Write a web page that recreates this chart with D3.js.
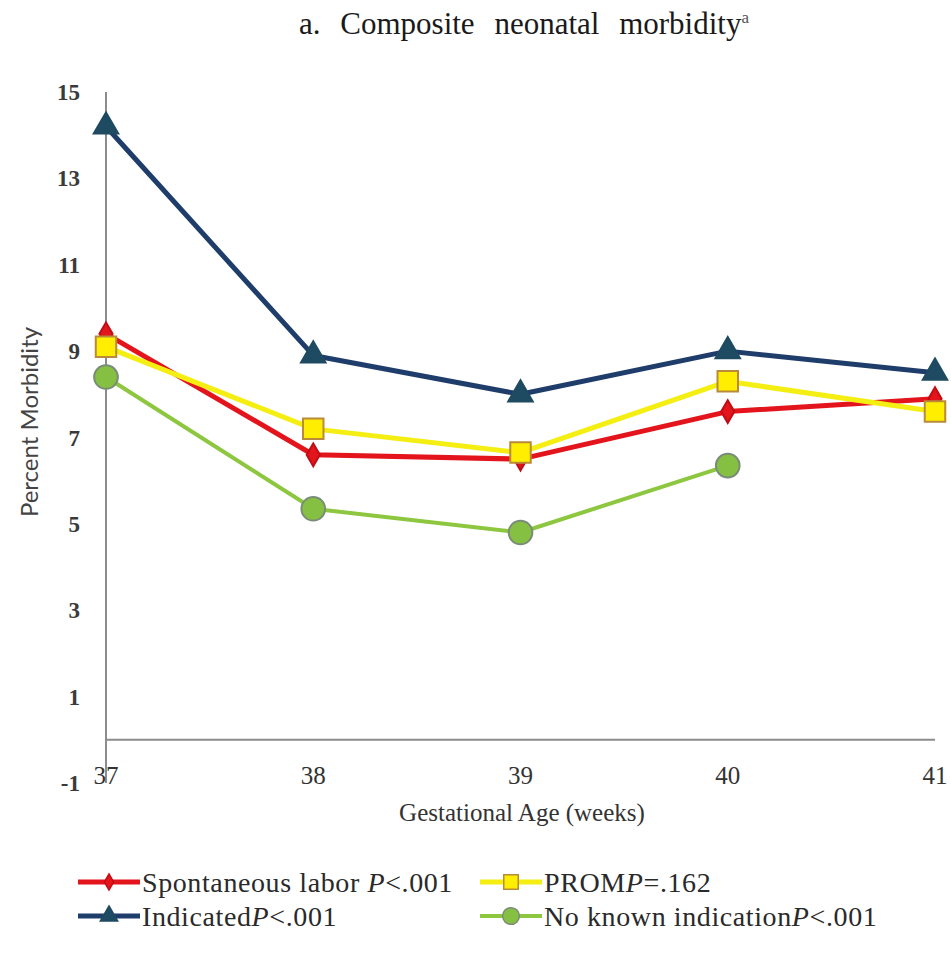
<!DOCTYPE html>
<html>
<head>
<meta charset="utf-8">
<script src="https://cdn.jsdelivr.net/npm/d3@7"></script>
<style>
  html, body { margin: 0; padding: 0; background: #fff; }
  svg { display: block; }
</style>
</head>
<body>
<svg id="chart" width="951" height="953"></svg>
<script>
// Gestational age (weeks) on the x axis
const weeks = [37, 38, 39, 40, 41];
const yTicks = [15, 13, 11, 9, 7, 5, 3, 1, -1];

// Percent morbidity by labour type
const spontaneous = [9.4, 6.6, 6.5, 7.6, 7.9];
const prom = [9.1, 7.2, 6.65, 8.3, 7.6];
const indicated = [14.2, 8.9, 8.0, 9.0, 8.5];
const noIndication = [8.4, 5.35, 4.8, 6.35, null];

const seriesNames = ["Spontaneous labor ", "PROM", "Indicated", "No known indication"];
const pLabels = ["<.001", "=.162", "<.001", "<.001"];

const series = [
  { name: seriesNames[0], p: pLabels[0], values: spontaneous, line: "#e3141b", fill: "#e3141b", stroke: "#c00d14", shape: d3.symbolDiamond, size: 150, width: 5 },
  { name: seriesNames[1], p: pLabels[1], values: prom, line: "#f4ee12", fill: "#ffee00", stroke: "#b88a3a", shape: d3.symbolSquare, size: 420, width: 5 },
  { name: seriesNames[2], p: pLabels[2], values: indicated, line: "#1f3d6b", fill: "#1e4a62", stroke: "#1e4a62", shape: d3.symbolTriangle, size: 260, width: 5 },
  { name: seriesNames[3], p: pLabels[3], values: noIndication, line: "#8dc63f", fill: "#86c042", stroke: "#7a8c78", shape: d3.symbolCircle, size: 440, width: 4 }
];

const svg = d3.select("#chart");

const x = d3.scaleLinear().domain([37, 41]).range([106, 935]);
const y = d3.scaleLinear().domain([-1, 15]).range([783, 92]);

const serif = "'Liberation Serif', 'Times New Roman', serif";

// Title
const title = svg.append("text")
  .attr("x", 524).attr("y", 34)
  .attr("text-anchor", "middle")
  .attr("font-family", serif)
  .attr("font-size", 31)
  .attr("word-spacing", 12)
  .attr("fill", "#1a1a1a");
title.append("tspan").text("a. Composite neonatal morbidity");
title.append("tspan").attr("font-size", 17).attr("dy", -11).attr("fill", "#555").text("a");

// Axis lines
svg.append("line")
  .attr("x1", x(37)).attr("x2", x(37))
  .attr("y1", y(15)).attr("y2", y(-1))
  .attr("stroke", "#8c8c8c").attr("stroke-width", 2);
svg.append("line")
  .attr("x1", x(37)).attr("x2", x(41))
  .attr("y1", y(0)).attr("y2", y(0))
  .attr("stroke", "#8c8c8c").attr("stroke-width", 2);

// Y tick labels
svg.append("g").selectAll("text")
  .data(yTicks).join("text")
  .attr("x", 80).attr("y", d => y(d))
  .attr("dy", "0.35em")
  .attr("text-anchor", "end")
  .attr("font-family", serif)
  .attr("font-weight", "bold")
  .attr("font-size", 23)
  .attr("fill", "#3a3a3a")
  .text(d => d);

// X tick labels
svg.append("g").selectAll("text")
  .data(weeks).join("text")
  .attr("x", d => x(d)).attr("y", 775)
  .attr("dy", "0.35em")
  .attr("text-anchor", "middle")
  .attr("font-family", serif)
  .attr("font-size", 25)
  .attr("fill", "#333")
  .text(d => d);

// Axis titles
svg.append("text")
  .attr("x", 522).attr("y", 812)
  .attr("dy", "0.35em")
  .attr("text-anchor", "middle")
  .attr("font-family", serif)
  .attr("font-size", 25)
  .attr("fill", "#333")
  .text("Gestational Age (weeks)");

svg.append("text")
  .attr("transform", "translate(30,422) rotate(-90)")
  .attr("dy", "0.35em")
  .attr("text-anchor", "middle")
  .attr("font-family", "Lato, 'Liberation Sans', sans-serif")
  .attr("font-size", 24)
  .attr("fill", "#444")
  .text("Percent Morbidity");

// Series lines and markers
const line = d3.line()
  .defined(d => d[1] != null)
  .x(d => x(d[0]))
  .y(d => y(d[1]));

series.forEach(s => {
  const pts = weeks.map((w, i) => [w, s.values[i]]);
  svg.append("path")
    .datum(pts)
    .attr("d", line)
    .attr("fill", "none")
    .attr("stroke", s.line)
    .attr("stroke-width", s.width)
    .attr("stroke-linejoin", "round");
  svg.append("g").selectAll("path")
    .data(pts.filter(d => d[1] != null)).join("path")
    .attr("transform", d => `translate(${x(d[0])},${y(d[1])})`)
    .attr("d", d3.symbol().type(s.shape).size(s.size))
    .attr("fill", s.fill)
    .attr("stroke", s.stroke)
    .attr("stroke-width", 2);
});

// Legend
const legendPos = [[78, 882], [480, 882], [78, 916], [480, 916]];
series.forEach((s, i) => {
  const [lx, ly] = legendPos[i];
  const g = svg.append("g").attr("transform", `translate(${lx},${ly})`);
  g.append("line")
    .attr("x1", 0).attr("x2", 62)
    .attr("stroke", s.line).attr("stroke-width", s.width);
  g.append("path")
    .attr("transform", "translate(31,0)")
    .attr("d", d3.symbol().type(s.shape).size(s.size * 0.5))
    .attr("fill", s.fill)
    .attr("stroke", s.stroke)
    .attr("stroke-width", 1.5);
  const t = g.append("text")
    .attr("x", 64).attr("dy", "0.35em")
    .attr("font-family", serif)
    .attr("font-size", 28)
    .attr("letter-spacing", 0.6)
    .attr("fill", "#2a2a2a");
  t.append("tspan").text(s.name);
  t.append("tspan").attr("font-style", "italic").text("P");
  t.append("tspan").text(s.p);
});
</script>
</body>
</html>
